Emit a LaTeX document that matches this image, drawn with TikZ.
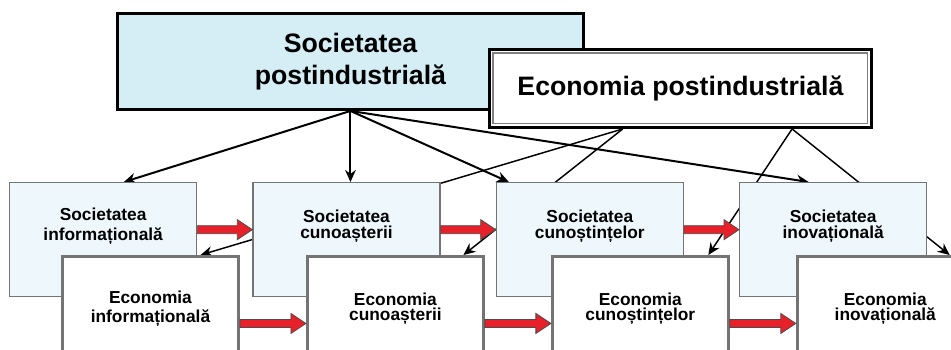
\documentclass[tikz,border=0pt]{standalone}
\usepackage{fontspec}
\setmainfont{Liberation Sans}
\usetikzlibrary{positioning,calc,arrows.meta}
\pgfdeclarelayer{background}
\pgfsetlayers{background,main}
\definecolor{postblue}{HTML}{D5EEF6}
\definecolor{socblue}{HTML}{EEF8FC}
\definecolor{boxgray}{HTML}{747474}
\definecolor{arrowred}{HTML}{E8202A}

% block arrow from #1 to #2, #3 = vertical offset from the box centres
\newcommand{\redarrow}[3]{%
  \filldraw[redblock] ($(#1.east)+(0,#3-4)$) -- ($(#2.west)+(-15,#3-4)$) -- ($(#2.west)+(-15,#3-10)$)
    -- ($(#2.west)+(0,#3)$) -- ($(#2.west)+(-15,#3+10)$) -- ($(#2.west)+(-15,#3+4)$)
    -- ($(#1.east)+(0,#3+4)$) -- cycle;}

\begin{document}
\begin{tikzpicture}[x=0.75pt,y=-0.75pt]
    \tikzset{arrow/.style = {line width=1.5pt, -{Stealth[length=9pt,width=8pt]}}, }
    \tikzset{thinarrow/.style = {line width=1.1pt, -{Stealth[length=9pt,width=8pt]}}, }
    \tikzset{bigbox/.style = {rectangle, draw, line width=2.2pt, align=center, anchor=north west,
       font=\bfseries\fontsize{20}{24}\selectfont}, }
    \tikzset{society/.style = {rectangle, draw=boxgray, line width=1pt, fill=socblue, minimum width=140.25pt,
       minimum height=85.5pt, align=center, text depth=23pt, font=\bfseries\fontsize{13}{11.5}\selectfont}, }
    \tikzset{economy/.style = {rectangle, draw=boxgray, line width=2.2pt, fill=white, minimum width=132pt,
       minimum height=78pt, align=center, font=\bfseries\fontsize{13}{11.5}\selectfont}, }
    \tikzset{loose/.style = {font=\bfseries\fontsize{13}{14.5}\selectfont}, }
    \tikzset{redblock/.style = {fill=arrowred, draw=black!70, line width=0.6pt, line join=miter}, }
    \path[use as bounding box, clip] (0,0) rectangle (951,350);

       \node[bigbox, fill=postblue, minimum width=349.5pt, minimum height=72pt] (SP) at (116,12)
         {Societatea\\postindustrială};
       \node[bigbox, fill=white, minimum width=286.5pt, minimum height=58.5pt] (EP) at (488,48)
         {Economia postindustrială};
       \draw[gray, line width=0.8pt] ($(EP.north west)+(5,5)$) rectangle ($(EP.south east)+(-5,-5)$);

       \node[society, loose, anchor=north west] (S1) at (9,182) {Societatea\\informațională};
       \node[society, right=41.25pt of S1] (S2) {Societatea\\cunoașterii};
       \node[society, right=41.25pt of S2] (S3) {Societatea\\cunoștințelor};
       \node[society, right=41.25pt of S3] (S4) {Societatea\\inovațională};

       \node[economy, loose, anchor=north west] (E1) at (61,255) {Economia\\informațională};
       \node[economy, right=49.5pt of E1] (E2) {Economia\\cunoașterii};
       \node[economy, right=49.5pt of E2] (E3) {Economia\\cunoștințelor};
       \node[economy, right=49.5pt of E3] (E4) {Economia\\inovațională};

       \begin{pgfonlayer}{background}
       \draw[arrow] (SP.south) -- ($(S1.north west)!.61!(S1.north east)$);
       \draw[arrow] (SP.south) -- (SP.south |- S2.north);
       \draw[arrow] (SP.south) -- ($(S3.north west)!.07!(S3.north east)$);
       \draw[arrow] (SP.south) -- ($(S4.north west)!.37!(S4.north east)$);

       \draw[thinarrow] ($(EP.south west)!.35!(EP.south east)$) -- ($(E1.north west)!.78!(E1.north east)$);
       \draw[thinarrow] ($(EP.south west)!.35!(EP.south east)$) -- ($(E2.north west)!.88!(E2.north east)$);
       \draw[thinarrow] ($(EP.south west)!.79!(EP.south east)$) -- ($(E3.north west)!.88!(E3.north east)$);
       \draw[thinarrow] ($(EP.south west)!.79!(EP.south east)$) -- ($(E4.north west)!.86!(E4.north east)$);
       \end{pgfonlayer}

       \redarrow{S1}{S2}{-10}
       \redarrow{S2}{S3}{-10}
       \redarrow{S3}{S4}{-10}
       \redarrow{E1}{E2}{15}
       \redarrow{E2}{E3}{15}
       \redarrow{E3}{E4}{15}

\end{tikzpicture}
\end{document}
